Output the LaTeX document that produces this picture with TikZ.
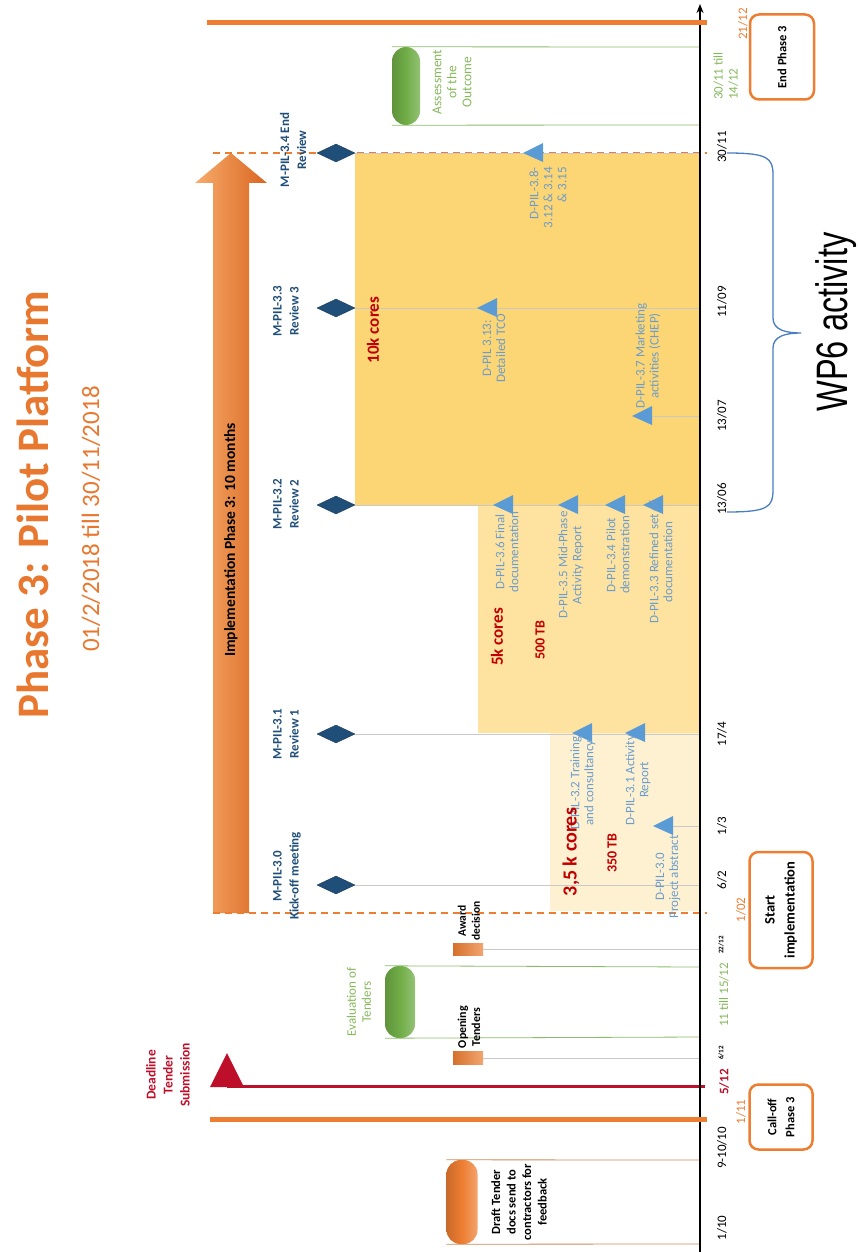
\documentclass[tikz,border=0pt]{standalone}
\usepackage{fontspec}
\setmainfont{Carlito}
\newfontfamily\wpfont{Liberation Sans}
\usepackage{graphicx}
\usetikzlibrary{arrows.meta,positioning,shapes.geometric}
\definecolor{phorange}{HTML}{ED7D31}
\definecolor{ttlorange}{HTML}{E8782F}
\definecolor{arrlight}{HTML}{F7AC6C}
\definecolor{arrdark}{HTML}{DA6520}
\definecolor{gold}{HTML}{FCD574}
\definecolor{midyel}{HTML}{FEE3A0}
\definecolor{lightyel}{HTML}{FDF1D2}
\definecolor{msblue}{HTML}{1F4E79}
\definecolor{dblue}{HTML}{5B9BD5}
\definecolor{dtext}{HTML}{6C9CCB}
\definecolor{dred}{HTML}{C00000}
\definecolor{deadred}{HTML}{BE0F2A}
\definecolor{pillgreen}{HTML}{70AD47}
\definecolor{gtext}{HTML}{86B85C}
\definecolor{gline}{HTML}{8DBB6A}
\definecolor{dline}{HTML}{CC8A5A}
\definecolor{tickgrey}{HTML}{C9C9C9}
\definecolor{braceblue}{HTML}{4A7DC2}

\begin{document}
\begin{tikzpicture}[x=1pt, y=-1pt,
  every node/.style={inner sep=0pt},
  vtext/.style={rotate=90, align=center},
  datelbl/.style={vtext, font=\fontsize{13}{15}\selectfont},
  smalldate/.style={vtext, font=\bfseries\fontsize{7}{8}\selectfont},
  mslabel/.style={vtext, text=msblue, font=\bfseries\fontsize{13}{17}\selectfont},
  mstone/.style={diamond, fill=msblue, draw=msblue!70!black, line width=0.4pt,
    minimum width=38pt, minimum height=18pt},
  dlabel/.style={vtext, text=dtext, font=\fontsize{13}{14}\selectfont},
  cores/.style={vtext, text=dred, font=\bfseries\fontsize{17}{19}\selectfont},
  tick/.style={draw=tickgrey, line width=0.8pt},
  phasebox/.style={rotate=90, draw=phorange, line width=2.5pt, rounded corners=9pt,
    align=center, inner sep=3pt, font=\bfseries\fontsize{12.5}{18}\selectfont},
  greenpill/.style={rounded corners=14pt, left color=pillgreen!85!black,
    right color=pillgreen!75!white, middle color=pillgreen},
  orangepill/.style={rounded corners=14pt, left color=phorange!85!black,
    right color=phorange!70!white, middle color=phorange},
  evbar/.style={left color=phorange!90!black, right color=phorange!70!white}
]
  \useasboundingbox (0,0) rectangle (858,1252);

  % points on the time axis
  \foreach \n/\y in {1010/1244, 0910/1160, 0111/1119, 0512/1086, 0612/1058,
      1512/967, 1112/1037, 2212/949, 0102/913, 0602/885, 0103/826, 1704/734,
      1306/505, 1307/416, 1109/308, 3011/153, 3011g/125, 1412/47, 2112/23}
    \coordinate (ax\n) at (700,\y);

  % resource blocks
  \fill[gold] (355,153) rectangle (700,505);
  \fill[midyel] (478,505) rectangle (700,733);
  \fill[lightyel] (550,733) rectangle (700,911);

  % implementation arrow
  \shade[left color=arrlight, middle color=phorange, right color=arrdark]
    (213,913) -- (213,183) -- (195,183) -- (231,153) -- (267,183)
    -- (249,183) -- (249,913) -- cycle;
  \node[vtext, font=\bfseries\fontsize{15.5}{18}\selectfont] (impl) at (231,540)
    {Implementation Phase 3: 10 months};
  \coordinate (implstart) at (213,913);
  \coordinate (implend) at (213,153);
  \draw[phorange, line width=2pt, dash pattern=on 7pt off 5pt] (implstart) -- ([xshift=7pt]ax0102);
  \draw[phorange, line width=2pt, dash pattern=on 7pt off 5pt] (implend) -- ([xshift=7pt]ax3011);

  % milestones
  \foreach \n/\y in {30/885, 31/734, 32/505, 33/308, 34/153}
    \node[mstone] (m\n) at (336,\y) {};
  \foreach \m/\a in {m30/0602, m31/1704, m32/1306, m33/1109, m34/3011}
    \draw[tick] (\m.east) -- (ax\a);
  \node[mslabel] (lm30) at (287,876) {M-PIL-3.0\\Kick-off meeting};
  \node[mslabel] (lm31) at (286,734) {M-PIL-3.1\\Review 1};
  \node[mslabel] (lm32) at (286,504) {M-PIL-3.2\\Review 2};
  \node[mslabel] (lm33) at (286,311) {M-PIL-3.3\\Review 3};
  \node[mslabel] (lm34) at (293,150) {M-PIL-3.4 End\\Review};

  % deliverables
  \draw[tick] (635,416) -- (ax1307);
  \draw[tick] (656,826) -- (ax0103);
  \foreach \n/\x/\y in {38/523/153, 313/477/308, 37/632/416, 36/493/505,
      35/558/505, 34/605/505, 33/643/505, 32/572/733, 31/625/733, 30/653/826} {
    \coordinate (d\n) at (\x,\y);
    \fill[dblue] (d\n) -- ++(20,-10) -- ++(0,19) -- cycle;
  }
  \node[dlabel, align=right, anchor=east] (ld38) at (548,167) {D-PIL-3.8-\\3.12 \& 3.14\\\& 3.15};
  \node[dlabel, anchor=east] (ld313) at (494,314) {D-PIL 3.13:\\Detailed TCO};
  \node[dlabel] (ld37) at (648,356) {D-PIL-3.7 Marketing\\activities (CHEP)};
  \node[dlabel] (ld36) at (507,552) {D-PIL-3.6 Final\\documentation};
  \node[dlabel] (ld35) at (571,565) {D-PIL-3.5 Mid-Phase\\Activity Report};
  \node[dlabel] (ld34) at (618,555) {D-PIL-3.4 Pilot\\demonstration};
  \node[dlabel] (ld33) at (661,562) {D-PIL-3.3 Refined set of\\documentation};
  \node[dlabel] (ld32) at (583,783) {D-PIL-3.2 Training\\and consultancy};
  \node[dlabel] (ld31) at (638,780) {D-PIL-3.1 Activity\\Report};
  \node[dlabel] (ld30) at (668,877) {D-PIL-3.0\\Project abstract};

  % capacity
  \node[cores] (c10k) at (373,330) {10k cores};
  \node[cores] (c5k) at (497,637) {5k cores};
  \node[cores, font=\bfseries\fontsize{14}{16}\selectfont] (tb500) at (540,640) {500 TB};
  \node[cores, font=\bfseries\fontsize{20}{22}\selectfont] (c35k) at (571,852) {3,5 k cores};
  \node[cores, font=\bfseries\fontsize{14}{16}\selectfont] (tb350) at (612,853) {350 TB};

  % assessment and evaluation
  \node[greenpill, minimum width=28pt, minimum height=78pt] (assess) at (406,86) {};
  \draw[gline, line width=0.8pt] (assess.north west) -- (ax1412);
  \draw[gline, line width=0.8pt] (assess.south west) -- (ax3011g);
  \node[vtext, text=gtext, font=\fontsize{13.5}{15}\selectfont] (lassess) at (452,82)
    {Assessment\\of the\\Outcome};
  \node[greenpill, minimum width=30pt, minimum height=72pt] (evalt) at (400,1002) {};
  \draw[gline, line width=0.8pt] (evalt.north west) -- (ax1512);
  \draw[gline, line width=0.8pt] (evalt.south west) -- (ax1112);
  \node[vtext, text=gtext, font=\fontsize{13}{15}\selectfont] (levalt) at (359,1002)
    {Evaluation of\\Tenders};

  % tender events
  \node[evbar, minimum width=30pt, minimum height=12pt] (award) at (468,949) {};
  \draw[tick] (award.east) -- (ax2212);
  \node[vtext, font=\bfseries\fontsize{11.5}{14}\selectfont] (laward) at (469,921) {Award\\decision};
  \node[evbar, minimum width=30pt, minimum height=13pt] (opent) at (468,1058) {};
  \draw[tick] (opent.east) -- (ax0612);
  \node[vtext, font=\bfseries\fontsize{12}{14}\selectfont] (lopent) at (469,1027) {Opening\\Tenders};

  \node[orangepill, minimum width=31pt, minimum height=84pt] (draft) at (462,1202) {};
  \draw[dline, line width=0.8pt] (draft.north west) -- (ax0910);
  \draw[dline, line width=0.8pt] (draft.south west) -- (ax1010);
  \node[vtext, font=\bfseries\fontsize{12.5}{15.5}\selectfont] (ldraft) at (519,1202)
    {Draft Tender\\docs send to\\contractors for\\feedback};

  % deadline
  \coordinate (deadtri) at (227,1086);
  \draw[deadred, line width=3pt] (deadtri) -- ([xshift=5pt]ax0512);
  \fill[deadred] (227,1053) -- (210,1087) -- (244,1087) -- cycle;
  \node[vtext, text=deadred, font=\bfseries\fontsize{13.5}{17}\selectfont] (ldead) at (168,1075)
    {Deadline\\Tender\\Submission};

  % time axis
  \draw[-{Stealth[length=9pt,width=7pt]}, line width=2.5pt] (700,1252) -- (700,4);

  % phase limits
  \coordinate (ph0) at (210,1119);
  \coordinate (ph1) at (207,23);
  \draw[phorange, line width=5pt] (ph0) -- ([xshift=7pt]ax0111);
  \draw[phorange, line width=5pt] (ph1) -- ([xshift=7pt]ax2112);

  % dates
  \node[datelbl] (t1010) at (722,1228) {1/10};
  \node[datelbl] (t0910) at (722,1148) {9-10/10};
  \node[datelbl, text=phorange] (t0111) at (741,1112) {1/11};
  \node[datelbl, text=deadred, font=\bfseries\fontsize{13}{15}\selectfont] (t0512) at (724,1082) {5/12};
  \node[smalldate] (t0612) at (721,1053) {6/12};
  \node[datelbl, text=gtext] (t1112) at (724,995) {11 till 15/12};
  \node[smalldate] (t2212) at (721,945) {22/12};
  \node[datelbl, text=phorange] (t0102) at (741,910) {1/02};
  \node[datelbl] (t0602) at (722,880) {6/2};
  \node[datelbl] (t0103) at (722,826) {1/3};
  \node[datelbl] (t1704) at (722,734) {17/4};
  \node[datelbl] (t1306) at (722,499) {13/06};
  \node[datelbl] (t1307) at (722,416) {13/07};
  \node[datelbl] (t1109) at (722,302) {11/09};
  \node[datelbl] (t3011) at (722,147) {30/11};
  \node[datelbl, text=gtext, align=left, anchor=west] (t3011g) at (726,100) {30/11 till\\14/12};
  \node[datelbl, text=phorange] (t2112) at (743,24) {21/12};

  % phase boxes
  \node[phasebox, minimum width=85pt, minimum height=64pt] (endph) at (782,57) {End Phase 3};
  \node[phasebox, minimum width=116pt, minimum height=63pt,
    font=\bfseries\fontsize{14.5}{20}\selectfont] (startimp) at (781,910) {Start\\implementation};
  \node[phasebox, minimum width=65pt, minimum height=63pt] (calloff) at (781,1117) {Call-off\\Phase 3};

  % WP6 brace
  \coordinate (wptop) at (727,153);
  \coordinate (wptip) at (801,333);
  \coordinate (wpbot) at (727,512);
  \draw[braceblue, line width=1.3pt]
    (wptop) .. controls (768,153) and (773,158) .. (773,175) -- (773,318)
    .. controls (773,330) and (786,333) .. (wptip)
    .. controls (786,333) and (773,336) .. (773,348) -- (773,490)
    .. controls (773,507) and (768,512) .. (wpbot);
  \node[vtext, font=\wpfont\fontsize{44}{48}\selectfont] (wp6) at (836,322)
    {\scalebox{0.74}[1]{WP6 activity}};

  % title
  \node[vtext, text=ttlorange, font=\bfseries\fontsize{45}{50}\selectfont] (title) at (33,505)
    {Phase 3: Pilot Platform};
  \node[vtext, text=ttlorange, font=\fontsize{25}{28}\selectfont] (subtitle) at (91,519)
    {01/2/2018 till 30/11/2018};
\end{tikzpicture}
\end{document}
